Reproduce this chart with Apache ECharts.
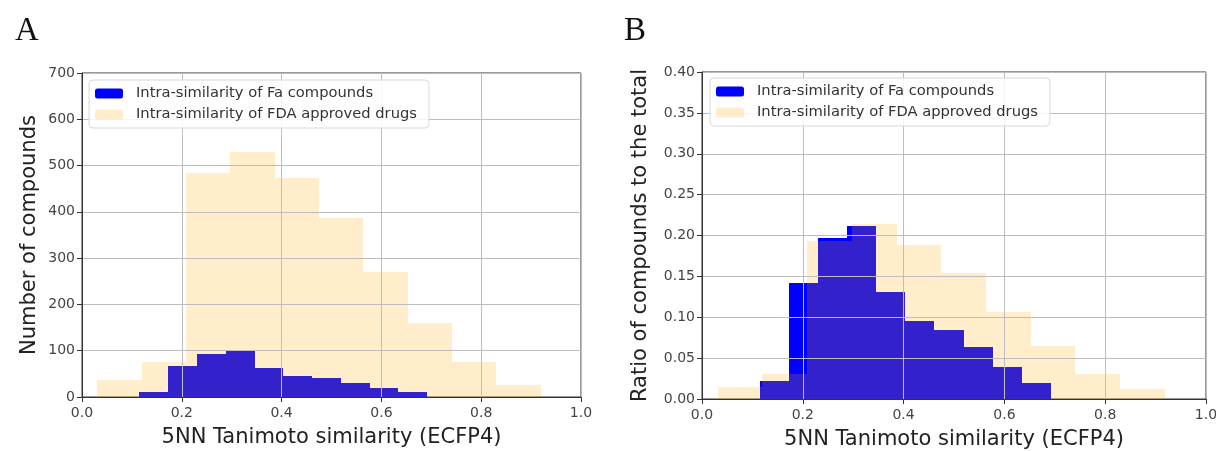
<!DOCTYPE html>
<html>
<head>
<meta charset="utf-8">
<script src="https://cdn.jsdelivr.net/npm/echarts@6/dist/echarts.min.js"></script>
<style>
html, body { margin: 0; padding: 0; background: #fff; }
#main { width: 1216px; height: 451px; }
</style>
</head>
<body>
<div id="main"></div>
<script>
// bin edges
var faEdges  = [0.115, 0.173, 0.230, 0.288, 0.346, 0.403, 0.461, 0.519, 0.577, 0.634, 0.692];
var fdaEdges = [0.031, 0.120, 0.209, 0.297, 0.386, 0.475, 0.564, 0.653, 0.741, 0.830, 0.919];

// A: counts
var faCounts  = [10, 66, 93, 99, 62, 46, 40, 31, 20, 10];
var fdaCounts = [37, 76, 484, 530, 473, 387, 269, 160, 76, 27];

// B: ratios
var faRatio  = [0.022, 0.142, 0.197, 0.212, 0.131, 0.096, 0.085, 0.063, 0.039, 0.019];
var fdaRatio = [0.015, 0.030, 0.193, 0.214, 0.188, 0.154, 0.107, 0.065, 0.030, 0.012];

var faName = 'Intra-similarity of Fa compounds';
var fdaName = 'Intra-similarity of FDA approved drugs';
var FONT = 'DejaVu Sans';

function bins(edges, vals) {
	var out = [];
	for (var i = 0; i < vals.length; i++) {
		out.push([edges[i], edges[i + 1], vals[i]]);
	}
	return out;
}

// one rectangle per bin, snapped to whole pixels so neighbours don't leave seams
function renderBin(params, api) {
	var p0 = api.coord([api.value(0), api.value(2)]);
	var p1 = api.coord([api.value(1), 0]);
	var x0 = Math.round(p0[0]), x1 = Math.round(p1[0]);
	var y0 = Math.round(p0[1]), y1 = Math.round(p1[1]);
	return {
		type: 'rect',
		shape: { x: x0, y: y0, width: x1 - x0, height: y1 - y0 },
		style: api.style()
	};
}

function xAx(idx) {
	return {
		type: 'value', gridIndex: idx, min: 0, max: 1, interval: 0.2, z: 3,
		name: '5NN Tanimoto similarity (ECFP4)',
		nameLocation: 'middle', nameGap: 30,
		nameTextStyle: { fontFamily: FONT, fontSize: 21, color: '#222' },
		axisLine: { show: true, onZero: false, lineStyle: { color: '#333', width: 1 } },
		axisTick: { show: true, length: 5, lineStyle: { color: '#333' } },
		axisLabel: { fontFamily: FONT, fontSize: 14, color: '#444', margin: 9,
			formatter: function (v) { return v.toFixed(1); } },
		splitLine: { show: true, lineStyle: { color: '#bdbdbd', width: 1 } }
	};
}

function yAx(idx, max, step, digits, name, gap) {
	return {
		type: 'value', gridIndex: idx, min: 0, max: max, interval: step, z: 3,
		name: name, nameLocation: 'middle', nameGap: gap,
		nameTextStyle: { fontFamily: FONT, fontSize: 21, color: '#222' },
		axisLine: { show: true, lineStyle: { color: '#333', width: 1 } },
		axisTick: { show: true, length: 5, lineStyle: { color: '#333' } },
		axisLabel: { fontFamily: FONT, fontSize: 14, color: '#444', margin: 7,
			formatter: function (v) { return v.toFixed(digits); } },
		splitLine: { show: true, lineStyle: { color: '#bdbdbd', width: 1 } }
	};
}

function legendAt(left, top) {
	return {
		orient: 'vertical', left: left, top: top, z: 10,
		itemWidth: 28, itemHeight: 10, itemGap: 6,
		padding: [6, 12, 6, 6],
		backgroundColor: 'rgba(255,255,255,0.85)',
		borderColor: '#d8d8d8', borderWidth: 1, borderRadius: 4,
		selectedMode: false,
		textStyle: { fontFamily: FONT, fontSize: 14.7, color: '#333', padding: [0, 0, 0, 8] },
		data: [
			{ name: faName, itemStyle: { color: '#0000ff' } },
			{ name: fdaName, itemStyle: { color: 'rgba(255,165,0,0.2)' } }
		]
	};
}

function hist(name, idx, data, color, z) {
	return {
		name: name, type: 'custom', xAxisIndex: idx, yAxisIndex: idx, z: z,
		renderItem: renderBin, encode: { x: [0, 1], y: 2 },
		itemStyle: { color: color }, data: data, silent: true
	};
}

var myChart = echarts.init(document.getElementById('main'));
var option = {
	backgroundColor: '#fff',
	animation: false,
	title: [
		{ text: 'A', left: 10, top: 10, textStyle: { fontFamily: 'Liberation Serif', fontSize: 33, fontWeight: 'normal', color: '#111' } },
		{ text: 'B', left: 619, top: 10, textStyle: { fontFamily: 'Liberation Serif', fontSize: 33, fontWeight: 'normal', color: '#111' } }
	],
	grid: [
		{ left: 82, top: 73, width: 499, height: 324, outerBoundsMode: 'none', show: true, borderColor: '#333', borderWidth: 1, backgroundColor: 'transparent' },
		{ left: 702, top: 72, width: 504, height: 327, outerBoundsMode: 'none', show: true, borderColor: '#333', borderWidth: 1, backgroundColor: 'transparent' }
	],
	xAxis: [xAx(0), xAx(1)],
	yAxis: [
		yAx(0, 700, 100, 0, 'Number of compounds', 42),
		yAx(1, 0.40, 0.05, 2, 'Ratio of compounds to the total', 51)
	],
	legend: [legendAt(89, 80), legendAt(710, 78)],
	series: [
		hist(faName, 0, bins(faEdges, faCounts), '#0000ff', 1),
		hist(fdaName, 0, bins(fdaEdges, fdaCounts), 'rgba(255,165,0,0.2)', 2),
		hist(faName, 1, bins(faEdges, faRatio), '#0000ff', 1),
		hist(fdaName, 1, bins(fdaEdges, fdaRatio), 'rgba(255,165,0,0.2)', 2)
	]
};
myChart.setOption(option);
</script>
</body>
</html>
